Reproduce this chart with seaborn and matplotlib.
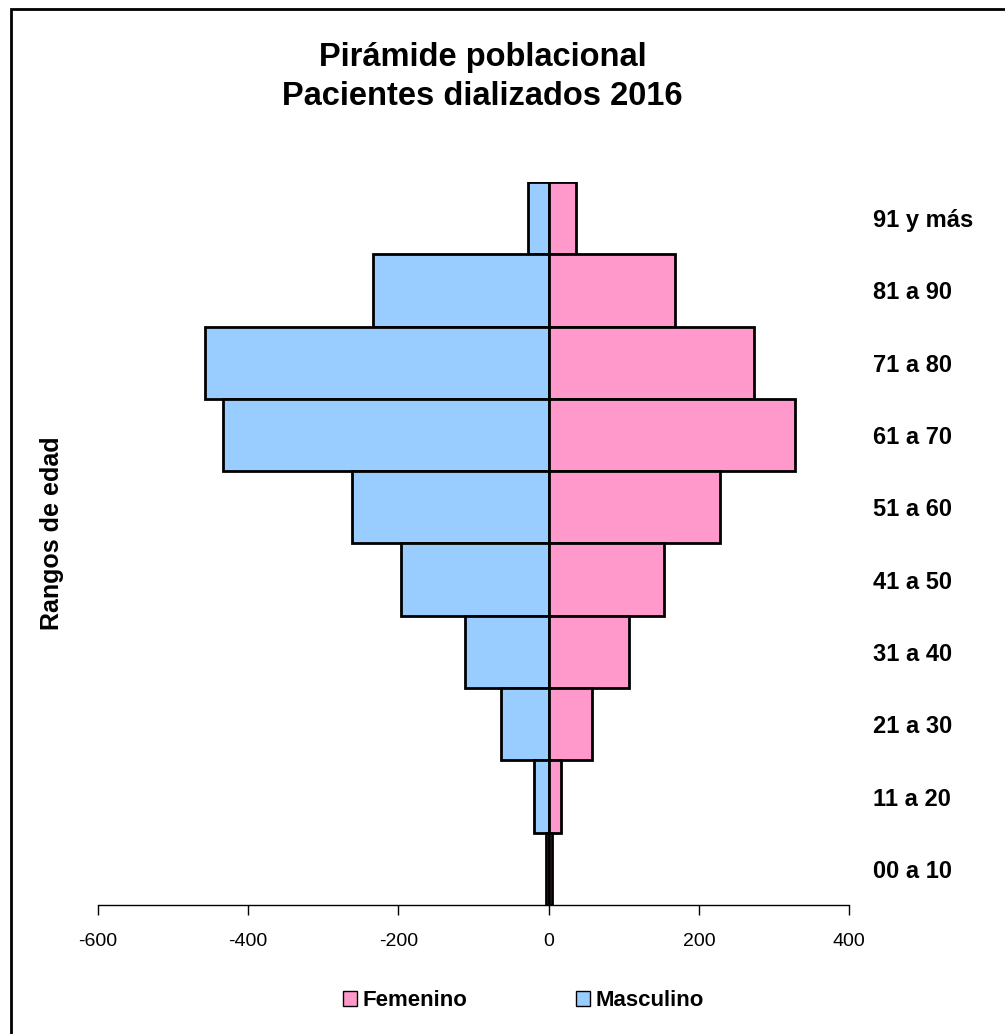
import matplotlib
matplotlib.use("Agg")
import matplotlib.pyplot as plt
import seaborn as sns
from matplotlib.patches import Patch, Rectangle

# Age groups, top to bottom
rangos = ['91 y más', '81 a 90', '71 a 80', '61 a 70', '51 a 60',
          '41 a 50', '31 a 40', '21 a 30', '11 a 20', '00 a 10']
masculino = [27, 234, 458, 434, 262, 196, 111, 64, 20, 4]
femenino = [36, 168, 273, 328, 228, 153, 107, 57, 16, 4]
x_ticks = [-600, -400, -200, 0, 200, 400]

color_m = '#99CCFF'
color_f = '#FF99CC'

sns.set_theme(style='white')
plt.rcParams['font.family'] = ['Liberation Sans', 'DejaVu Sans']
plt.rcParams['text.color'] = 'black'
plt.rcParams['xtick.color'] = 'black'
plt.rcParams['ytick.color'] = 'black'

fig = plt.figure(figsize=(10.05, 10.34), dpi=100)
ax = fig.add_axes([0.0975, 0.1248, 0.7475, 0.6992])

sns.barplot(x=[-v for v in masculino], y=rangos, orient='h', order=rangos,
            color=color_m, width=1.0, edgecolor='black', linewidth=2,
            saturation=1, ax=ax)
sns.barplot(x=femenino, y=rangos, orient='h', order=rangos,
            color=color_f, width=1.0, edgecolor='black', linewidth=2,
            saturation=1, ax=ax)

ax.set_xlim(-600, 400)
ax.set_ylim(9.5, -0.5)
ax.set_xticks(x_ticks)
ax.set_xticklabels([str(t) for t in x_ticks], fontsize=14)
ax.tick_params(axis='x', direction='out', length=7, width=1, color='black',
               bottom=True, pad=13)
ax.axvline(0, color='black', lw=1.5, zorder=0.5)

ax.yaxis.tick_right()
ax.tick_params(axis='y', length=0, pad=17)
for lab in ax.get_yticklabels():
    lab.set_fontsize(17)
    lab.set_fontweight('bold')
ax.set_ylabel('')
ax.set_xlabel('')

for s in ['top', 'right', 'left']:
    ax.spines[s].set_visible(False)
ax.spines['bottom'].set_color('black')
ax.spines['bottom'].set_linewidth(1)

fig.text(0.48, 0.9255, 'Pirámide poblacional\nPacientes dializados 2016',
         ha='center', va='center', fontsize=23.5, fontweight='bold',
         linespacing=1.35)
fig.text(0.052, 0.484, 'Rangos de edad', rotation=90, ha='center',
         va='center', fontsize=18, fontweight='bold')

handles = [Patch(facecolor=color_f, edgecolor='black', label='Femenino'),
           Patch(facecolor=color_m, edgecolor='black', label='Masculino')]
fig.legend(handles=handles, loc='center', bbox_to_anchor=(0.521, 0.032),
           ncol=2, frameon=False, columnspacing=4.9, handlelength=0.63,
           handleheight=0.63, handletextpad=0.25,
           prop={'size': 16, 'weight': 'bold'})

fig.add_artist(Rectangle((0.011, -0.1), 1.2, 0.9913 + 0.1,
                         transform=fig.transFigure, fill=False,
                         edgecolor='black', lw=2))

fig.savefig('out.png', dpi=100)
